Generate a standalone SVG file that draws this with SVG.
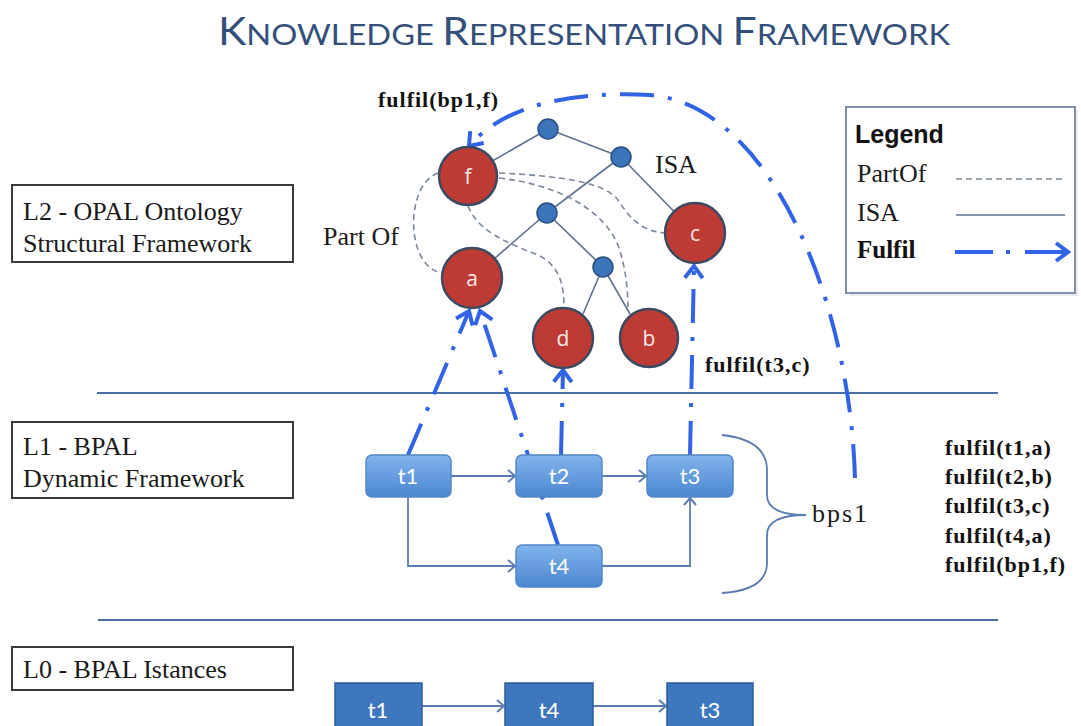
<svg xmlns="http://www.w3.org/2000/svg" width="1081" height="726" viewBox="0 0 1081 726">
<defs>
<style>
.lbl{font-family:"Liberation Serif","DejaVu Serif",serif;font-size:26px;fill:#1a1a1a}
.ful{font-family:"Liberation Serif","DejaVu Serif",serif;font-size:22px;font-weight:bold;letter-spacing:1px;fill:#111}
.lbox{fill:#fff;stroke:#3a3a3a;stroke-width:2}
.sep{stroke:#4A72A8;stroke-width:2}
.circ{fill:#BE3B35;stroke:#3C4A60;stroke-width:2.5}
.ctxt{font-family:"Open Sans","Liberation Sans",sans-serif;font-size:21px;fill:#f4e8e6;text-anchor:middle}
.dot{fill:#3C74BA;stroke:#2B4F80;stroke-width:1.5}
.isa{stroke:#5E7290;stroke-width:1.6;fill:none}
.part{stroke:#7A889C;stroke-width:1.6;fill:none;stroke-dasharray:6 4}
.fulfil{stroke:#3163E4;stroke-width:4;fill:none;stroke-dasharray:34 14 4 14}
.flow{stroke:#5B7DB1;stroke-width:1.8;fill:none}
.task{fill:url(#tg);stroke:#5487C6;stroke-width:1.5}
.ttxt{font-family:Lato,"Open Sans","Liberation Sans",sans-serif;font-size:22px;fill:#fff;text-anchor:middle}
.inst{fill:#3F77BE;stroke:#2C5B9A;stroke-width:1.5}
</style>
<linearGradient id="tg" x1="0" y1="0" x2="0" y2="1">
<stop offset="0" stop-color="#82B4EC"/>
<stop offset="1" stop-color="#4A86D0"/>
</linearGradient>
<marker id="fa" markerUnits="userSpaceOnUse" viewBox="-16 -16 32 32" markerWidth="32" markerHeight="32" refX="0" refY="0" orient="auto">
<path d="M -12 -9 L 0 0 L -12 9" fill="none" stroke="#3163E4" stroke-width="4"/>
</marker>
<marker id="ta" markerUnits="userSpaceOnUse" viewBox="-10 -10 20 20" markerWidth="20" markerHeight="20" refX="0" refY="0" orient="auto">
<path d="M -7 -6 L 0 0 L -7 6" fill="none" stroke="#5B7DB1" stroke-width="2"/>
</marker>
</defs>
<rect width="1081" height="726" fill="#fff"/>

<text x="218" y="45" font-family="Lato,'Open Sans','Liberation Sans',sans-serif" fill="#34507A" textLength="732" lengthAdjust="spacingAndGlyphs"><tspan font-size="38">K</tspan><tspan font-size="29">NOWLEDGE </tspan><tspan font-size="38">R</tspan><tspan font-size="29">EPRESENTATION </tspan><tspan font-size="38">F</tspan><tspan font-size="29">RAMEWORK</tspan></text>

<g id="layer-boxes">
<g id="L2"><rect class="lbox" x="12" y="185" width="281" height="77"/><text class="lbl" x="23" y="220">L2 - OPAL Ontology</text><text class="lbl" x="23" y="252">Structural Framework</text></g>
<g id="L1"><rect class="lbox" x="12" y="422" width="281" height="76"/><text class="lbl" x="23" y="455">L1 - BPAL</text><text class="lbl" x="23" y="487">Dynamic Framework</text></g>
<g id="L0"><rect class="lbox" x="12" y="647" width="281" height="43"/><text class="lbl" x="23" y="678">L0 - BPAL Istances</text></g>
</g>

<g id="separators">
<line class="sep" x1="97" y1="393" x2="998" y2="393"/>
<line class="sep" x1="98" y1="620" x2="998" y2="620"/>
</g>

<g id="connectors">
<line class="isa" x1="468" y1="175" x2="548" y2="129"/>
<line class="isa" x1="548" y1="129" x2="621" y2="157"/>
<line class="isa" x1="621" y1="157" x2="695" y2="233"/>
<line class="isa" x1="621" y1="157" x2="547" y2="213"/>
<line class="isa" x1="547" y1="213" x2="472" y2="278"/>
<line class="isa" x1="547" y1="213" x2="603" y2="267"/>
<line class="isa" x1="603" y1="267" x2="583" y2="314"/>
<line class="isa" x1="603" y1="267" x2="630" y2="314"/>
<path class="part" d="M 438 173 C 405 185, 405 265, 441 273"/>
<path class="part" d="M 499 173 C 560 176, 605 182, 618 200 C 632 222, 645 232, 666 233"/>
<path class="part" d="M 499 178 C 560 185, 603 210, 618 245 C 626 268, 628 290, 628 310"/>
<path class="part" d="M 468 206 C 478 232, 510 244, 538 255 C 560 266, 564 285, 564 308"/>
<line class="flow" x1="451" y1="476" x2="515" y2="476" marker-end="url(#ta)"/>
<line class="flow" x1="602" y1="476" x2="646" y2="476" marker-end="url(#ta)"/>
<polyline class="flow" points="408,497 408,566 515,566" marker-end="url(#ta)"/>
<polyline class="flow" points="602,566 690,566 690,498" marker-end="url(#ta)"/>
<path class="flow" d="M 722 435 Q 767 440 767 470 L 767 495 Q 767 515 806 515 Q 767 515 767 535 L 767 563 Q 767 590 722 593"/>
<line class="flow" x1="422" y1="706" x2="504" y2="706" marker-end="url(#ta)"/>
<line class="flow" x1="593" y1="706" x2="666" y2="706" marker-end="url(#ta)"/>
<path class="fulfil" d="M 408 455 L 469 311" marker-end="url(#fa)"/>
<path class="fulfil" d="M 558 545 L 480 311" marker-end="url(#fa)"/>
<path class="fulfil" d="M 561 455 L 563 370" marker-end="url(#fa)"/>
<path class="fulfil" d="M 690 455 L 694 266" marker-end="url(#fa)"/>
<path class="fulfil" d="M 855 478 C 850 300, 770 105, 650 95 C 570 91, 505 105, 469 146" marker-end="url(#fa)"/>
</g>

<g id="isa-dots">
<circle class="dot" cx="548" cy="129" r="10"/>
<circle class="dot" cx="621" cy="157" r="10"/>
<circle class="dot" cx="547" cy="213" r="10"/>
<circle class="dot" cx="603" cy="267" r="10"/>
</g>

<g id="node-f"><circle class="circ" cx="468" cy="176" r="29"/><text class="ctxt" x="468" y="184">f</text></g>
<g id="node-a"><circle class="circ" cx="472" cy="278" r="30"/><text class="ctxt" x="472" y="286">a</text></g>
<g id="node-d"><circle class="circ" cx="563" cy="338" r="30"/><text class="ctxt" x="563" y="346">d</text></g>
<g id="node-b"><circle class="circ" cx="649" cy="338" r="29"/><text class="ctxt" x="649" y="346">b</text></g>
<g id="node-c"><circle class="circ" cx="695" cy="233" r="30"/><text class="ctxt" x="695" y="241">c</text></g>

<g id="task-t1"><rect class="task" x="366" y="455" width="85" height="42" rx="6"/><text class="ttxt" x="408" y="484">t1</text></g>
<g id="task-t2"><rect class="task" x="516" y="455" width="86" height="42" rx="6"/><text class="ttxt" x="559" y="484">t2</text></g>
<g id="task-t3"><rect class="task" x="647" y="455" width="86" height="42" rx="6"/><text class="ttxt" x="690" y="484">t3</text></g>
<g id="task-t4"><rect class="task" x="516" y="545" width="86" height="42" rx="6"/><text class="ttxt" x="559" y="574">t4</text></g>

<g id="inst-t1"><rect class="inst" x="335" y="683" width="87" height="50"/><text class="ttxt" x="378" y="718">t1</text></g>
<g id="inst-t4"><rect class="inst" x="505" y="683" width="88" height="50"/><text class="ttxt" x="549" y="718">t4</text></g>
<g id="inst-t3"><rect class="inst" x="667" y="683" width="86" height="50"/><text class="ttxt" x="710" y="718">t3</text></g>

<g id="labels">
<text class="ful" x="378" y="107">fulfil(bp1,f)</text>
<text class="ful" x="705" y="372">fulfil(t3,c)</text>
<text class="lbl" x="323" y="245">Part Of</text>
<text class="lbl" x="655" y="173" font-size="25">ISA</text>
<text class="lbl" x="812" y="522" style="letter-spacing:2px">bps1</text>
<text class="ful" x="945" y="455">fulfil(t1,a)</text>
<text class="ful" x="945" y="484">fulfil(t2,b)</text>
<text class="ful" x="945" y="513">fulfil(t3,c)</text>
<text class="ful" x="945" y="543">fulfil(t4,a)</text>
<text class="ful" x="945" y="572">fulfil(bp1,f)</text>
</g>

<g id="legend">
<rect x="849" y="110" width="229" height="186" fill="#D8DDE6" opacity="0.6"/>
<rect x="846" y="107" width="229" height="186" fill="#fff" stroke="#8090A8" stroke-width="2"/>
<text x="855" y="143" font-family="'Liberation Sans',Arial,sans-serif" font-weight="bold" font-size="25" fill="#111">Legend</text>
<text class="lbl" x="857" y="182" font-size="25">PartOf</text>
<text class="lbl" x="857" y="221" font-size="25">ISA</text>
<text x="857" y="258" font-family="'Liberation Serif',serif" font-weight="bold" font-size="25" fill="#111">Fulfil</text>
<line class="part" x1="956" y1="179" x2="1065" y2="179"/>
<line class="isa" x1="956" y1="215" x2="1065" y2="215"/>
<line x1="955" y1="252" x2="993" y2="252" stroke="#3163E4" stroke-width="4"/>
<line x1="1006" y1="252" x2="1010" y2="252" stroke="#3163E4" stroke-width="4"/>
<line x1="1025" y1="252" x2="1068" y2="252" stroke="#3163E4" stroke-width="4" marker-end="url(#fa)"/>
</g>
</svg>
